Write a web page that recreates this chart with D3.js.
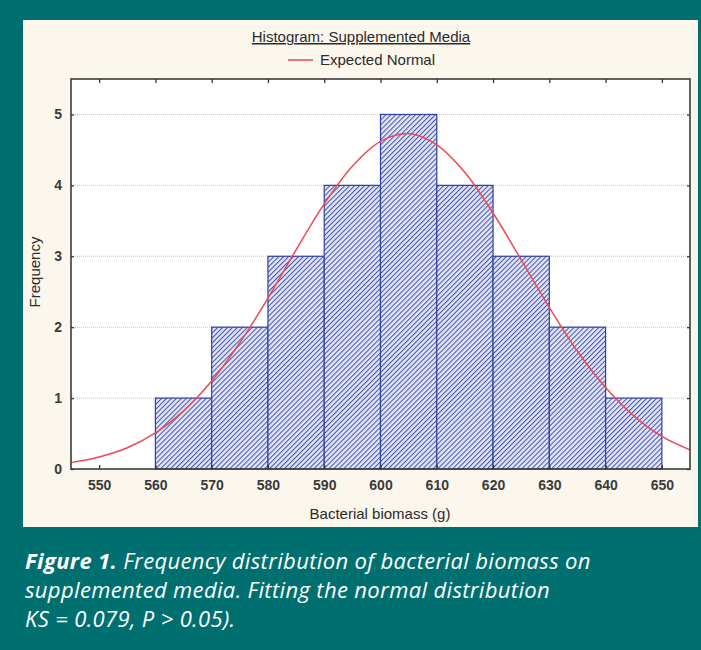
<!DOCTYPE html>
<html>
  <head>
    <meta charset="utf-8">
    <script src="https://cdn.jsdelivr.net/npm/d3@7"></script>
    <style>
      body { margin: 0; background: #006f70; }
    </style>
  </head>
  <body>
    <script type="text/javascript">
      var W = 701, H = 650;

      // bins (lower edge) and frequencies
      var binStarts = [560, 570, 580, 590, 600, 610, 620, 630, 640];
      var counts = [1, 2, 3, 4, 5, 4, 3, 2, 1];
      var binWidth = 10;

      // expected normal curve
      var curveX = [545, 550, 555, 560, 565, 570, 575, 580, 585, 590, 595, 600,
                    605, 610, 615, 620, 625, 630, 635, 640, 645, 650, 655];
      var curveY = [0.09, 0.17, 0.30, 0.51, 0.82, 1.24, 1.78, 2.41, 3.09, 3.74, 4.27, 4.62,
                    4.73, 4.57, 4.18, 3.61, 2.95, 2.28, 1.66, 1.15, 0.75, 0.46, 0.27];

      var xTicks = [550, 560, 570, 580, 590, 600, 610, 620, 630, 640, 650];
      var yTicks = [0, 1, 2, 3, 4, 5];

      var chartFont = "'Liberation Sans', Arial, sans-serif";

      var svg = d3.select("body")
                  .append("svg")
                    .attr("width", W)
                    .attr("height", H);

      // teal frame + cream panel
      svg.append("rect").attr("width", W).attr("height", H).attr("fill", "#006f70");
      svg.append("rect")
         .attr("x", 23).attr("y", 20)
         .attr("width", 675).attr("height", 507)
         .attr("fill", "#fcf7ec");

      var pLeft = 71, pRight = 690, pTop = 79, pBottom = 469;

      var x = d3.scaleLinear().domain([545, 655]).range([pLeft, pRight]);
      var y = d3.scaleLinear().domain([0, 5.5]).range([pBottom, pTop]);

      // hatch pattern for the bars
      var defs = svg.append("defs");
      var pat = defs.append("pattern")
         .attr("id", "hatch")
         .attr("patternUnits", "userSpaceOnUse")
         .attr("width", 3.5).attr("height", 3.5)
         .attr("patternTransform", "rotate(45)");
      pat.append("rect").attr("width", 3.5).attr("height", 3.5).attr("fill", "#e2e5f6");
      pat.append("line")
         .attr("x1", 0).attr("y1", 0).attr("x2", 0).attr("y2", 3.5)
         .attr("stroke", "#4050ac").attr("stroke-width", 2);

      // plot area
      svg.append("rect")
         .attr("x", pLeft).attr("y", pTop)
         .attr("width", pRight - pLeft).attr("height", pBottom - pTop)
         .attr("fill", "white");

      // dotted grid
      svg.selectAll("line.grid")
         .data(yTicks.filter(function(d){ return d > 0; }))
         .enter()
         .append("line")
           .attr("class", "grid")
           .attr("x1", pLeft).attr("x2", pRight)
           .attr("y1", function(d){ return y(d); })
           .attr("y2", function(d){ return y(d); })
           .attr("stroke", "#c4c4c4")
           .attr("stroke-dasharray", "1,1");

      // bars
      svg.selectAll("rect.bar")
         .data(counts)
         .enter()
         .append("rect")
           .attr("class", "bar")
           .attr("x", function(d, i){ return x(binStarts[i]); })
           .attr("y", function(d){ return y(d); })
           .attr("width", function(d, i){ return x(binStarts[i] + binWidth) - x(binStarts[i]); })
           .attr("height", function(d){ return y(0) - y(d); })
           .attr("fill", "url(#hatch)")
           .attr("stroke", "#2f3f9f")
           .attr("stroke-width", 1.2);

      // expected normal
      var line = d3.line()
         .x(function(d, i){ return x(curveX[i]); })
         .y(function(d){ return y(d); })
         .curve(d3.curveCatmullRom);
      svg.append("path")
         .datum(curveY)
         .attr("d", line)
         .attr("fill", "none")
         .attr("stroke", "#ec4a50")
         .attr("stroke-width", 1.5);

      // axes: ticks point inside on all four sides
      var fmt = d3.format("d");
      var axB = svg.append("g").attr("transform", "translate(0," + pBottom + ")")
         .call(d3.axisBottom(x).tickValues(xTicks).tickSize(-4).tickPadding(11).tickFormat(fmt));
      var axT = svg.append("g").attr("transform", "translate(0," + pTop + ")")
         .call(d3.axisTop(x).tickValues(xTicks).tickSize(-4).tickFormat(""));
      var axL = svg.append("g").attr("transform", "translate(" + pLeft + ",0)")
         .call(d3.axisLeft(y).tickValues(yTicks).tickSize(-3).tickPadding(9).tickFormat(fmt));
      var axR = svg.append("g").attr("transform", "translate(" + pRight + ",0)")
         .call(d3.axisRight(y).tickValues(yTicks).tickSize(-3).tickFormat(""));

      [axB, axT, axL, axR].forEach(function(g){
        g.select(".domain").remove();
        g.selectAll(".tick line").attr("stroke", "#333").attr("stroke-width", 1.3);
        g.selectAll("text")
         .attr("font-family", chartFont)
         .attr("font-size", 14)
         .attr("font-weight", "bold")
         .attr("fill", "#3a3a3a");
      });

      // frame
      svg.append("rect")
         .attr("x", pLeft).attr("y", pTop)
         .attr("width", pRight - pLeft).attr("height", pBottom - pTop)
         .attr("fill", "none")
         .attr("stroke", "#3c3c3c")
         .attr("stroke-width", 1.6);

      // titles
      svg.append("text")
         .text("Histogram: Supplemented Media")
         .attr("x", 361).attr("y", 42)
         .attr("text-anchor", "middle")
         .attr("font-family", chartFont)
         .attr("font-size", 15)
         .attr("text-decoration", "underline")
         .attr("fill", "#2a2a2a");

      svg.append("line")
         .attr("x1", 288).attr("x2", 313).attr("y1", 60).attr("y2", 60)
         .attr("stroke", "#ec4a50").attr("stroke-width", 1.5);
      svg.append("text")
         .text("Expected Normal")
         .attr("x", 320).attr("y", 65)
         .attr("font-family", chartFont)
         .attr("font-size", 15)
         .attr("fill", "#2a2a2a");

      svg.append("text")
         .text("Frequency")
         .attr("transform", "translate(40,272) rotate(-90)")
         .attr("text-anchor", "middle")
         .attr("font-family", chartFont)
         .attr("font-size", 15)
         .attr("fill", "#2a2a2a");

      svg.append("text")
         .text("Bacterial biomass (g)")
         .attr("x", 380).attr("y", 519)
         .attr("text-anchor", "middle")
         .attr("font-family", chartFont)
         .attr("font-size", 15)
         .attr("fill", "#2a2a2a");

      // caption
      var capFont = "'Open Sans', 'Noto Sans', sans-serif";
      var cap = svg.append("g")
         .attr("font-family", capFont)
         .attr("font-size", 22)
         .attr("letter-spacing", 0.35)
         .attr("font-style", "italic")
         .attr("fill", "white");
      var l1 = cap.append("text").attr("x", 25).attr("y", 569);
      l1.append("tspan").attr("font-weight", "bold").text("Figure 1.");
      l1.append("tspan").text(" Frequency distribution of bacterial biomass on");
      cap.append("text").attr("x", 25).attr("y", 598)
         .text("supplemented media. Fitting the normal distribution");
      cap.append("text").attr("x", 25).attr("y", 627)
         .text("KS = 0.079, P > 0.05).");
    </script>
  </body>
</html>
